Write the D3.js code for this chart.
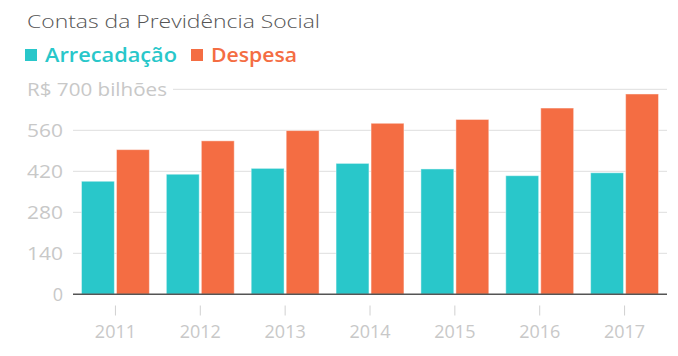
<!DOCTYPE html>
<html><head><meta charset="utf-8">
<script src="https://cdn.jsdelivr.net/npm/d3@7"></script>
<style>body{margin:0;background:#fff}svg{display:block}</style>
</head><body>
<script>
const years = ["2011","2012","2013","2014","2015","2016","2017"];
const seriesNames = ["Arrecadação","Despesa"];
const arrecadacao = [386,410,430,447,428,405,415];
const despesa = [494,524,559,584,597,636,684];
const yTicks = [0,140,280,420,560,700];
const colors = ["#29C7CA","#F46D43"];

const W=678,H=356;
const svg=d3.select("body").append("svg").attr("width",W).attr("height",H);
const font="'Open Sans', Lato, sans-serif";

const x=d3.scaleBand().domain(years).range([73,667]).paddingInner(0.2).paddingOuter(0.1);
const xs=d3.scaleBand().domain(seriesNames).range([0,x.bandwidth()]).paddingInner(0.06);
const y=d3.scaleLinear().domain([0,700]).range([294.3,89.3]);

// title
svg.append("text").attr("x",27).attr("y",28).text("Contas da Previdência Social")
  .attr("font-family",font).attr("font-size",18).attr("font-weight",300).attr("fill","#555")
  .attr("textLength",293).attr("lengthAdjust","spacingAndGlyphs");

// legend
const lg=[{n:"Arrecadação",x:25,w:132},{n:"Despesa",x:191,w:86}];
lg.forEach((d,i)=>{
  svg.append("rect").attr("x",d.x).attr("y",49).attr("width",12).attr("height",12).attr("fill",colors[i]);
  svg.append("text").attr("x",d.x+20).attr("y",62).text(d.n)
   .attr("font-family",font).attr("font-size",20).attr("font-weight",600).attr("fill",colors[i])
   .attr("textLength",d.w).attr("lengthAdjust","spacingAndGlyphs");
});

// grid
const g=svg.append("g");
yTicks.forEach(t=>{
  if(t===0) return;
  g.append("line").attr("x1",t===700?173:73).attr("x2",667).attr("y1",y(t)).attr("y2",y(t))
   .attr("stroke","#dedede").attr("stroke-width",1);
  const tx=g.append("text").attr("x",t===700?27:63).attr("y",y(t)).attr("dy","0.36em")
   .attr("text-anchor",t===700?"start":"end").text(t===700?"R$ 700 bilhões":t)
   .attr("font-family",font).attr("font-size",18).attr("fill","#c8c8c8");
  if(t===700) tx.attr("textLength",140).attr("lengthAdjust","spacingAndGlyphs");
  else tx.attr("textLength",String(t).length*12).attr("lengthAdjust","spacingAndGlyphs");
});
g.append("text").attr("x",63).attr("y",y(0)).attr("dy","0.36em").attr("text-anchor","end").text("0")
  .attr("font-family",font).attr("font-size",18).attr("fill","#c8c8c8");

// bars
const data=years.map((yr,i)=>({yr,vals:[arrecadacao[i],despesa[i]]}));
const grp=svg.selectAll("g.bar").data(data).join("g").attr("class","bar")
  .attr("transform",d=>`translate(${x(d.yr)},0)`);
grp.selectAll("rect").data(d=>d.vals.map((v,i)=>({v,s:seriesNames[i],i}))).join("rect")
  .attr("x",d=>xs(d.s)).attr("width",xs.bandwidth())
  .attr("y",d=>y(d.v)).attr("height",d=>y(0)-y(d.v))
  .attr("fill",d=>colors[d.i]).attr("stroke","rgba(255,255,255,0.45)").attr("stroke-width",1);

// axis line
svg.append("line").attr("x1",73).attr("x2",667).attr("y1",y(0)).attr("y2",y(0))
  .attr("stroke","#555").attr("stroke-width",1.5);

// x ticks
const xa=svg.append("g").attr("transform","translate(0,305.5)")
  .call(d3.axisBottom(x).tickSize(10).tickPadding(10));
xa.select(".domain").remove();
xa.selectAll(".tick line").attr("stroke","#d0d0d0");
xa.selectAll(".tick text").attr("font-family",font).attr("font-size",18).attr("fill","#c8c8c8");
</script>
</body></html>
